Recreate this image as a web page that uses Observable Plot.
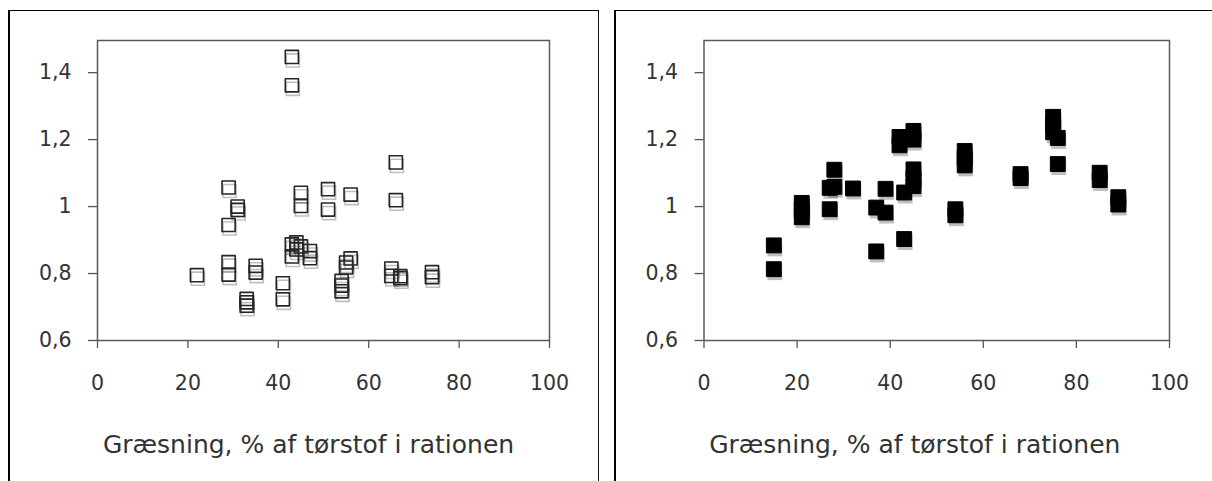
<!DOCTYPE html>
<html>
<head>
<meta charset="utf-8">
<script src="https://cdn.jsdelivr.net/npm/d3@7"></script>
<script src="https://cdn.jsdelivr.net/npm/@observablehq/plot@0.6"></script>
<style>
  html, body { margin: 0; padding: 0; background: #fff; width: 1212px; height: 481px; overflow: hidden; }
  .panel { position: absolute; box-sizing: border-box; background: #fff; }
  #pl { left: 8px; top: 10px; width: 591px; height: 500px; border-left: 2px solid #000; border-top: 1.5px solid #000; border-right: 1.5px solid #111; }
  #pr { left: 614px; top: 10px; width: 620px; height: 500px; border-left: 2.5px solid #000; border-top: 1.5px solid #000; }
  .chart { position: absolute; top: 0; }
  #cl { left: 0px; }
  #cr { left: 606px; }
</style>
</head>
<body>
<div class="panel" id="pl"></div>
<div class="panel" id="pr"></div>
<div class="chart" id="cl"></div>
<div class="chart" id="cr"></div>
<script>
// Left panel: open squares
const leftX = [43, 43, 66, 29, 31, 31, 29, 45, 45, 51, 51, 56, 66,
  43, 43, 44, 45, 44, 47, 47, 56, 55, 55, 54, 54, 54, 65, 65, 67, 67, 74, 74,
  22, 29, 29, 35, 35, 33, 33, 33, 41, 41];
const leftY = [1.447, 1.362, 1.132, 1.057, 1.0, 0.99, 0.945, 1.041, 1.002, 1.052, 0.991, 1.036, 1.019,
  0.887, 0.851, 0.893, 0.881, 0.872, 0.867, 0.846, 0.845, 0.833, 0.818, 0.778, 0.764, 0.747, 0.815, 0.793, 0.792, 0.786, 0.804, 0.789,
  0.795, 0.834, 0.797, 0.823, 0.803, 0.724, 0.714, 0.704, 0.771, 0.723];

// Right panel: filled squares
const rightX = [15, 15, 21, 21, 21, 27, 27, 28, 28, 32, 37, 37, 39, 39, 43, 43,
  42, 42, 45, 45, 45, 45, 45, 54, 54, 56, 56, 56, 68, 68, 75, 75, 75, 76, 76, 85, 85, 89, 89];
const rightY = [0.884, 0.813, 1.011, 0.99, 0.968, 0.992, 1.056, 1.059, 1.11, 1.054, 0.997, 0.866, 1.053, 0.982, 1.042, 0.903,
  1.208, 1.183, 1.226, 1.2, 1.111, 1.084, 1.061, 0.992, 0.974, 1.166, 1.145, 1.123, 1.097, 1.085, 1.268, 1.245, 1.222, 1.205, 1.127, 1.101, 1.079, 1.028, 1.006];

const xTicks = [0, 20, 40, 60, 80, 100];
const yTicks = [0.6, 0.8, 1, 1.2, 1.4];
const xTitle = "Græsning, % af tørstof i rationen";

const fmtY = d => String(d).replace(".", ",");
const FONT = "'DejaVu Sans', sans-serif";

function panel({xs, ys, filled, width, marginLeft, marginRight, titleDx}) {
  const data = xs.map((x, i) => ({x, y: ys[i]}));
  const r = filled ? 8.4 : 7.4;
  const marks = [
    Plot.axisY(yTicks, {label: null, tickSize: 9, tickPadding: 17, tickFormat: fmtY, stroke: "#555", strokeWidth: 1.3, fill: "#333", fontSize: 20.5}),
    Plot.axisX(xTicks, {label: null, tickSize: 8, tickPadding: 27, stroke: "#555", strokeWidth: 1.3, fill: "#333", fontSize: 20.5}),
    Plot.frame({stroke: "#5a5a5a", strokeWidth: 1.5}),
    Plot.dot(data, {x: "x", y: "y", symbol: "square", r, dx: 1, dy: 3.5,
      ariaLabel: "shadow",
      fill: filled ? "#000" : "none", stroke: filled ? "none" : "#000", strokeWidth: 1.6,
      opacity: 0.25}),
    Plot.dot(data, {x: "x", y: "y", symbol: "square", r,
      fill: filled ? "#000" : "none", stroke: filled ? "#000" : "#262626", strokeWidth: filled ? 1 : 1.6,
      strokeLinejoin: "round"}),
    Plot.text([xTitle], {text: d => d, frameAnchor: "bottom", dy: 112, dx: titleDx, fontSize: 25, fill: "#333"})
  ];
  const svg = Plot.plot({
    width, height: 481,
    marginLeft, marginRight, marginTop: 40, marginBottom: 141,
    x: {domain: [0, 100], axis: null},
    y: {domain: [0.6, 1.496], axis: null},
    style: {fontFamily: FONT, background: "transparent", overflow: "visible"},
    marks
  });
  const sh = svg.querySelector('g[aria-label="shadow"]');
  if (sh) sh.style.filter = "blur(2px)";
  return svg;
}

document.getElementById("cl").append(panel({xs: leftX, ys: leftY, filled: false, width: 600, marginLeft: 97, marginRight: 51, titleDx: -15}));
document.getElementById("cr").append(panel({xs: rightX, ys: rightY, filled: true, width: 606, marginLeft: 97.5, marginRight: 43, titleDx: -22}));
</script>
</body>
</html>
